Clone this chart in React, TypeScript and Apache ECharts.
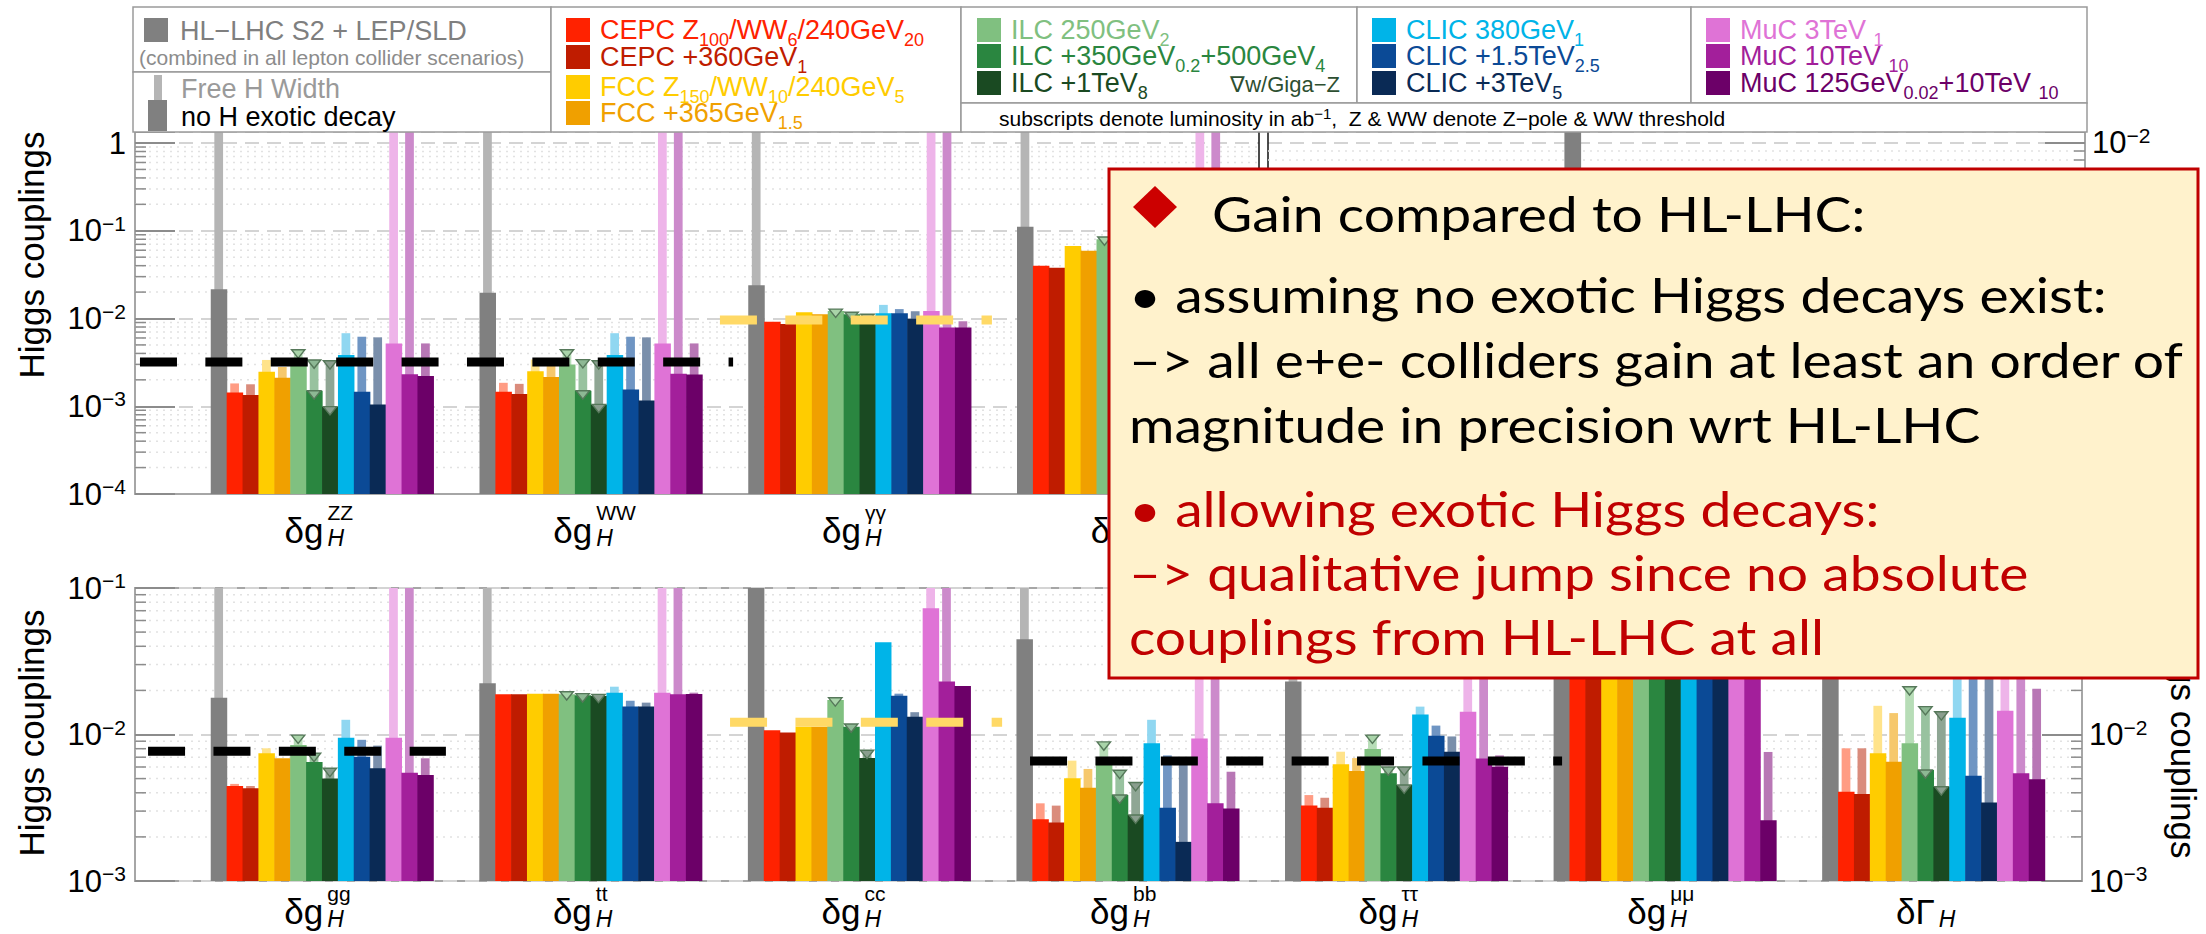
import React, { useEffect, useRef } from 'react';
import * as echarts from 'echarts';

const LABEL_FONT = '"Liberation Sans", Arial, Helvetica, sans-serif';
const NOTE_FONT = 'Lato, "Open Sans", sans-serif';

// ---------------- scenarios (bar order inside every group) ----------------
const scenarioNames = [
  'HL-LHC S2 + LEP/SLD', 'CEPC Z100/WW6/240GeV20', 'CEPC +360GeV1', 'FCC Z150/WW10/240GeV5', 'FCC +365GeV1.5',
  'ILC 250GeV2', 'ILC +350GeV0.2+500GeV4', 'ILC +1TeV8', 'CLIC 380GeV1', 'CLIC +1.5TeV2.5', 'CLIC +3TeV5',
  'MuC 3TeV1', 'MuC 10TeV10', 'MuC 125GeV0.02+10TeV10',
];
const noExoticColors = ['#808080', '#FF2200', '#BF1C00', '#FFCC00', '#F0A000', '#80C080', '#2A8640', '#1A4A22', '#00B4E8', '#0B4A96', '#0A2A55', '#DF73D6', '#A31F9B', '#6C0068'];
const freeWidthColors = ['#B5B5B5', '#FF9C84', '#DA8C7C', '#FFE38A', '#F6C86C', '#B7DDB7', '#98C29F', '#8FA694', '#90D7F1', '#6F95C3', '#7A8FAB', '#EEB4E9', '#CC8ACB', '#B877B5'];
const gigaZIndices = [5, 6, 7];
const gigaZFill = ['', '', '', '', '', '#A9D4A9', '#8DB894', '#8A9E8E'];

// legend labels (rich text, index matches scenario)
const legendLabels = [
  'HL−LHC S2 + LEP/SLD', 'CEPC Z{sub|100}/WW{sub|6}/240GeV{sub|20}', 'CEPC +360GeV{sub|1}', 'FCC Z{sub|150}/WW{sub|10}/240GeV{sub|5}', 'FCC +365GeV{sub|1.5}',
  'ILC 250GeV{sub|2}', 'ILC +350GeV{sub|0.2}+500GeV{sub|4}', 'ILC +1TeV{sub|8}', 'CLIC 380GeV{sub|1}', 'CLIC +1.5TeV{sub|2.5}', 'CLIC +3TeV{sub|5}',
  'MuC 3TeV {sub|1}', 'MuC 10TeV {sub|10}', 'MuC 125GeV{sub|0.02}+10TeV {sub|10}',
];

// ---------------- groups ----------------
const topGroups = ['ZZ', 'WW', 'γγ', 'Zγ'];
const bottomGroups = ['gg', 'tt', 'cc', 'bb', 'ττ', 'μμ', 'Γ'];

const OFF = 5; // beyond the top of the axis

// top panel: "no H exotic decay" (solid) and "Free H Width" (thin, lighter)
const zzNoExotic = [0.0215, 0.00143, 0.00134, 0.00248, 0.00211, 0.0030, 0.0015, 0.00099, 0.00384, 0.00146, 0.00105, 0.0052, 0.00231, 0.00221];
const zzFreeWidth = [OFF, 0.00182, 0.00178, 0.00337, 0.0028, 0.0044, 0.00337, 0.0033, 0.0068, 0.0062, 0.0061, OFF, OFF, 0.0052];
const wwNoExotic = [0.0197, 0.00146, 0.00138, 0.0025, 0.00215, 0.0030, 0.0015, 0.00105, 0.00384, 0.00155, 0.00116, 0.0052, 0.00235, 0.0023];
const wwFreeWidth = [OFF, 0.00185, 0.0018, 0.0034, 0.0029, 0.0044, 0.0034, 0.0033, 0.0068, 0.0062, 0.0061, OFF, OFF, 0.0052];
const aaNoExotic = [0.024, 0.0092, 0.00865, 0.0118, 0.0112, 0.0122, 0.0112, 0.0102, 0.0115, 0.0115, 0.00995, 0.0122, 0.0079, 0.0079];
const aaFreeWidth = [OFF, 0.0092, 0.00865, 0.0118, 0.0112, 0.0128, 0.0118, 0.0112, 0.0143, 0.0128, 0.0121, OFF, OFF, 0.0093];
const zaNoExotic = [0.111, 0.040, 0.038, 0.067, 0.059, 0.08, 0.07, 0.06, 0.12, 0.07, 0.06, 0.2, 0.1, 0.1];
const zaFreeWidth = [OFF, 0.040, 0.038, 0.067, 0.059, 0.085, 0.08, 0.07, 0.15, 0.1, 0.09, OFF, OFF, 0.2];

// top right panel (behind the note): only the HL-LHC bar of group 2 is visible
const rightGreyGroup = [1];
const rightGreyValue = [0.05];

// bottom panel
const ggNoExotic = [0.0178, 0.00445, 0.00429, 0.00745, 0.00688, 0.00848, 0.0065, 0.0050, 0.0095, 0.00706, 0.00588, 0.0095, 0.00548, 0.00529];
const ggFreeWidth = [OFF, 0.0046, 0.00445, 0.00805, 0.00688, 0.0099, 0.00745, 0.00588, 0.0126, 0.0092, 0.0084, OFF, OFF, 0.00688];
const ttNoExotic = [0.0224, 0.0188, 0.0188, 0.019, 0.019, 0.0188, 0.0185, 0.0183, 0.0193, 0.0155, 0.0155, 0.0193, 0.0188, 0.0189];
const ttFreeWidth = [OFF, 0.0188, 0.0188, 0.019, 0.019, 0.0196, 0.019, 0.0188, 0.0212, 0.017, 0.0165, OFF, OFF, 0.0193];
const ccNoExotic = [OFF, 0.0107, 0.0103, 0.0113, 0.0113, 0.0172, 0.0113, 0.0069, 0.0426, 0.0184, 0.0132, 0.0726, 0.023, 0.0214];
const ccFreeWidth = [OFF, 0.0107, 0.0103, 0.0113, 0.0113, 0.0178, 0.0118, 0.0078, 0.0426, 0.019, 0.0142, OFF, OFF, 0.0214];
const bbNoExotic = [0.0447, 0.00264, 0.00251, 0.00502, 0.00433, 0.00642, 0.00386, 0.00282, 0.0087, 0.00316, 0.00185, 0.0094, 0.00339, 0.00313];
const bbFreeWidth = [OFF, 0.00339, 0.00327, 0.00663, 0.00582, 0.0089, 0.0057, 0.0047, 0.0126, 0.0072, 0.0062, OFF, OFF, 0.00557];
const tauNoExotic = [0.023, 0.00327, 0.00316, 0.00626, 0.00563, 0.00796, 0.00543, 0.00452, 0.0137, 0.0098, 0.00763, 0.0143, 0.00687, 0.00603];
const tauFreeWidth = [OFF, 0.00386, 0.0037, 0.00763, 0.0069, 0.0099, 0.0060, 0.0060, 0.0155, 0.0115, 0.0097, OFF, OFF, 0.0072];
const muNoExotic = [0.043, 0.064, 0.059, 0.084, 0.08, 0.14, 0.09, 0.06, 0.3, 0.1, 0.056, 0.1, 0.034, 0.0026];
const muFreeWidth = [OFF, 0.065, 0.06, 0.085, 0.081, 0.15, 0.095, 0.065, 0.3, 0.12, 0.07, OFF, OFF, 0.0076];
const widthNoExotic = [0.05, 0.00407, 0.00392, 0.00745, 0.00652, 0.0087, 0.00573, 0.0044, 0.013, 0.00523, 0.00344, 0.0145, 0.00543, 0.00494];
const widthFreeWidth = [OFF, 0.00805, 0.00805, 0.0157, 0.014, 0.0212, 0.0155, 0.0143, 0.05, 0.05, 0.05, OFF, OFF, 0.0205];

const topNoExotic = [zzNoExotic, wwNoExotic, aaNoExotic, zaNoExotic];
const topFreeWidth = [zzFreeWidth, wwFreeWidth, aaFreeWidth, zaFreeWidth];
const bottomNoExotic = [ggNoExotic, ttNoExotic, ccNoExotic, bbNoExotic, tauNoExotic, muNoExotic, widthNoExotic];
const bottomFreeWidth = [ggFreeWidth, ttFreeWidth, ccFreeWidth, bbFreeWidth, tauFreeWidth, muFreeWidth, widthFreeWidth];

// dashed reference levels (x extent in group units)
const topRefFrom = [-0.675, 1.483];
const topRefTo = [1.532, 2.495];
const topRefValue = [0.0032, 0.0096];
const topRefKind = ['black', 'yellow'];
const bottomRefFrom = [-0.645, 1.522, 2.639];
const bottomRefTo = [0.464, 2.535, 4.62];
const bottomRefValue = [0.0077, 0.0121, 0.0066];
const bottomRefKind = ['black', 'yellow', 'black'];

// axis ranges
const topMin = 1e-4, topMax = 1.335;
const rightMin = 1e-4, rightMax = 0.01155;
const botMin = 1e-3, botMax = 1e-1;
const minorMultipliers = [2, 3, 4, 5, 6, 7, 8, 9];
const topDecades = [1e-4, 1e-3, 1e-2, 1e-1];
const rightDecades = [1e-4, 1e-3];
const bottomDecades = [1e-3, 1e-2];

// note box text
const noteLines = [
  'Gain compared to HL-LHC:',
  '• assuming no exotic Higgs decays exist:',
  '–> all e+e- colliders gain at least an order of',
  'magnitude in precision wrt HL-LHC',
  '• allowing exotic Higgs decays:',
  '–> qualitative jump since no absolute',
  'couplings from HL-LHC at all',
];
const noteColors = ['#000', '#000', '#000', '#000', '#C00000', '#C00000', '#C00000'];

// ---------------- helpers ----------------
const BAND_UNIT = 15.9 / 268.75;
const BAND_OFFSET = 23.75 / 268.75;

function buildBars(noEx: number[][], free: number[][]) {
  const out: number[][] = [];
  noEx.forEach((row, g) => row.forEach((v, b) => out.push([g, b, v, free[g][b]])));
  return out;
}
function buildGigaZ(noEx: number[][], free: number[][]) {
  const out: number[][] = [];
  noEx.forEach((row, g) => gigaZIndices.forEach((b) => {
    out.push([g, b, free[g][b]]);
    if (b !== 5 && free[g][b] / row[b] > 1.25) out.push([g, b, row[b]]);
  }));
  return out;
}
function minorValues(decades: number[]) {
  const out: number[][] = [];
  decades.forEach((d) => minorMultipliers.forEach((m) => out.push([0.5, m * d])));
  return out;
}

const renderBars = (params: any, api: any) => {
  const cs = params.coordSys;
  const g = api.value(0), b = api.value(1), dark = api.value(2), light = api.value(3);
  const xl = g - 0.5 + BAND_OFFSET + b * BAND_UNIT;
  const pa = api.coord([xl, dark]);
  const pb = api.coord([xl + BAND_UNIT, dark]);
  const bottom = cs.y + cs.height;
  const clampY = (y: number) => Math.max(cs.y, Math.min(bottom, y));
  const yd = clampY(pa[1]);
  const yl = clampY(api.coord([xl, light])[1]);
  const w = pb[0] - pa[0];
  const lw = w * 0.55;
  const children: any[] = [];
  if (yl < yd) {
    children.push({ type: 'rect', shape: { x: pa[0] + (w - lw) / 2, y: yl, width: lw, height: yd - yl + 1 }, style: { fill: freeWidthColors[b] } });
  }
  children.push({ type: 'rect', shape: { x: pa[0], y: yd, width: w + 0.6, height: bottom - yd }, style: { fill: noExoticColors[b] } });
  return { type: 'group', children };
};

const renderGigaZ = (params: any, api: any) => {
  const cs = params.coordSys;
  const g = api.value(0), b = api.value(1), v = api.value(2);
  const xl = g - 0.5 + BAND_OFFSET + b * BAND_UNIT;
  const pa = api.coord([xl, v]);
  const pb = api.coord([xl + BAND_UNIT, v]);
  if (pa[1] < cs.y || pa[1] > cs.y + cs.height) return null;
  const cx = (pa[0] + pb[0]) / 2, hw = (pb[0] - pa[0]) * 0.42, y = pa[1];
  return {
    type: 'polygon',
    shape: { points: [[cx - hw, y], [cx + hw, y], [cx, y + hw * 1.25]] },
    style: { fill: gigaZFill[b], stroke: '#56785A', lineWidth: 1.4 },
  };
};

const renderRef = (kinds: string[]) => (params: any, api: any) => {
  const p1 = api.coord([api.value(0), api.value(2)]);
  const p2 = api.coord([api.value(1), api.value(2)]);
  return {
    type: 'line',
    shape: { x1: p1[0], y1: p1[1], x2: p2[0], y2: p2[1] },
    style: { stroke: kinds[params.dataIndex] === 'yellow' ? '#FFD966' : '#000000', lineWidth: 9, lineDash: [37, 28.4] },
  };
};

const renderMinor = (tickLeft: boolean, tickRight: boolean) => (params: any, api: any) => {
  const cs = params.coordSys;
  const y = api.coord([0.5, api.value(1)])[1];
  const children: any[] = [
    { type: 'line', shape: { x1: cs.x, y1: y, x2: cs.x + cs.width, y2: y }, style: { stroke: '#E2E2E2', lineWidth: 1.5, lineDash: [2, 5] } },
  ];
  if (tickLeft) children.push({ type: 'line', shape: { x1: cs.x, y1: y, x2: cs.x + 11, y2: y }, style: { stroke: '#8C8C8C', lineWidth: 1.5 } });
  if (tickRight) children.push({ type: 'line', shape: { x1: cs.x + cs.width - 11, y1: y, x2: cs.x + cs.width, y2: y }, style: { stroke: '#8C8C8C', lineWidth: 1.5 } });
  return { type: 'group', children };
};

const renderGroupLabel = (names: string[], baseOff: number) => (params: any, api: any) => {
  const cs = params.coordSys;
  const cx = api.coord([api.value(0), api.value(1)])[0];
  const base = cs.y + cs.height + baseOff;
  const name = names[params.dataIndex];
  const isWidth = name === 'Γ';
  const children: any[] = [
    { type: 'text', style: { text: isWidth ? 'δΓ' : 'δg', x: cx + 2, y: base - 12, font: `35px ${LABEL_FONT}`, fill: '#000', textAlign: 'right', textVerticalAlign: 'middle' } },
    { type: 'text', style: { text: 'H', x: cx + 6, y: base - 4, font: `italic 23px ${LABEL_FONT}`, fill: '#000', textAlign: 'left', textVerticalAlign: 'middle' } },
  ];
  if (!isWidth) {
    children.push({ type: 'text', style: { text: name, x: cx + 6, y: base - 30, font: `21px ${LABEL_FONT}`, fill: '#000', textAlign: 'left', textVerticalAlign: 'middle' } });
  }
  return { type: 'group', children };
};

const decadeLabel = (v: number) => {
  const e = Math.log10(v);
  const r = Math.round(e);
  if (Math.abs(e - r) > 0.02) return '';
  return r === 0 ? '{b|1}' : `{b|10}{s|−${-r}}`;
};
const tickRich = {
  b: { fontSize: 31, fontFamily: LABEL_FONT, color: '#000', lineHeight: 36 },
  s: { fontSize: 21, fontFamily: LABEL_FONT, color: '#000', lineHeight: 16, verticalAlign: 'top' },
};
const GREY_AXIS = { show: true, onZero: false, lineStyle: { color: '#A6A6A6', width: 2 } };
const BLACK_AXIS = { show: true, onZero: false, lineStyle: { color: '#111', width: 1.5 } };
const MAJOR_TICK = { show: true, inside: true, length: 40, lineStyle: { color: '#8C8C8C', width: 2 } };
const SPLIT = { show: true, lineStyle: { color: '#D4D4D4', width: 2, type: [14, 8] } };

function measure(text: string, font: string) {
  const ctx = document.createElement('canvas').getContext('2d');
  if (!ctx) return 1000;
  ctx.font = font;
  return ctx.measureText(text).width;
}

function buildGraphics() {
  const els: any[] = [];
  // axis titles
  els.push({ type: 'text', x: 31, y: 255, rotation: Math.PI / 2, z: 50, style: { text: 'Higgs couplings', font: `35px ${LABEL_FONT}`, fill: '#000', textAlign: 'center', textVerticalAlign: 'middle' } });
  els.push({ type: 'text', x: 31, y: 733, rotation: Math.PI / 2, z: 50, style: { text: 'Higgs couplings', font: `35px ${LABEL_FONT}`, fill: '#000', textAlign: 'center', textVerticalAlign: 'middle' } });
  els.push({ type: 'text', x: 2183, y: 735, rotation: -Math.PI / 2, z: 50, style: { text: 'Higgs couplings', font: `35px ${LABEL_FONT}`, fill: '#000', textAlign: 'center', textVerticalAlign: 'middle' } });

  // legend boxes
  const box = (x: number, y: number, w: number, h: number) => ({ type: 'rect', z: 60, shape: { x, y, width: w, height: h }, style: { fill: '#fff', stroke: '#9A9A9A', lineWidth: 1.5 } });
  els.push(box(133, 7, 418, 65), box(133, 72, 418, 60), box(551, 7, 410, 125), box(961, 7, 396, 96), box(1357, 7, 334, 96), box(1691, 7, 396, 96), box(961, 103, 1126, 29));

  const legendText = (x: number, y: number, text: string, color: string, size = 27) => ({
    type: 'text', x, y, z: 61,
    style: {
      text, fill: color, font: `${size}px ${LABEL_FONT}`, lineHeight: 24, textAlign: 'left', textVerticalAlign: 'middle',
      rich: {
        sub: { font: `18px ${LABEL_FONT}`, fill: color, lineHeight: 4, height: 4, verticalAlign: 'bottom' },
        sup: { font: `15px ${LABEL_FONT}`, fill: color, lineHeight: 8, verticalAlign: 'top' },
      },
    },
  });
  // HL-LHC box
  els.push({ type: 'rect', z: 61, shape: { x: 144, y: 18, width: 24, height: 24 }, style: { fill: noExoticColors[0] } });
  els.push(legendText(180, 31, legendLabels[0], '#7F7F7F'));
  els.push(legendText(139, 57, '(combined in all lepton collider scenarios)', '#8C8C8C', 21));
  els.push({ type: 'rect', z: 61, shape: { x: 154, y: 75, width: 8, height: 26 }, style: { fill: freeWidthColors[0] } });
  els.push({ type: 'rect', z: 61, shape: { x: 148, y: 100, width: 19, height: 31 }, style: { fill: noExoticColors[0] } });
  els.push(legendText(181, 89, 'Free H Width', '#9A9A9A'));
  els.push(legendText(181, 117, 'no H exotic decay', '#000'));

  const boxes = [
    { x: 566, rows: [30, 57, 87, 113], idx: [1, 2, 3, 4] },
    { x: 977, rows: [30, 56, 83], idx: [5, 6, 7] },
    { x: 1372, rows: [30, 56, 83], idx: [8, 9, 10] },
    { x: 1706, rows: [30, 56, 83], idx: [11, 12, 13] },
  ];
  boxes.forEach((bx) => bx.idx.forEach((s, i) => {
    const y = bx.rows[i];
    els.push({ type: 'rect', z: 61, shape: { x: bx.x, y: y - 12, width: 24, height: 24 }, style: { fill: noExoticColors[s] } });
    els.push(legendText(bx.x + 34, y, legendLabels[s], noExoticColors[s]));
  }));
  els.push({ type: 'text', x: 1340, y: 84, z: 61, style: { text: '∇w/Giga−Z', fill: '#2D4F31', font: `22px ${LABEL_FONT}`, textAlign: 'right', textVerticalAlign: 'middle' } });
  els.push(legendText(999, 118, 'subscripts denote luminosity in ab{sup|−1},  Z & WW denote Z−pole & WW threshold', '#000', 21));

  // note box
  els.push({ type: 'rect', z: 100, shape: { x: 1109, y: 169, width: 1089, height: 509 }, style: { fill: '#FFF2CC', stroke: '#C00000', lineWidth: 3 } });
  els.push({ type: 'polygon', z: 101, shape: { points: [[1155, 186], [1177, 207], [1155, 228], [1133, 207]] }, style: { fill: '#CC0000' } });
  const noteFontPx = 49;
  const noteFont = `${noteFontPx}px ${NOTE_FONT}`;
  const scaleX = 1055 / measure(noteLines[2], noteFont);
  const noteX = [1212, 1129, 1129, 1129, 1129, 1129, 1129];
  const noteBase = [231, 312, 377, 442, 526, 590, 654];
  noteLines.forEach((t, i) => {
    els.push({
      type: 'text', x: noteX[i], y: noteBase[i] - 0.37 * noteFontPx, scaleX, z: 101,
      style: { text: t, fill: noteColors[i], font: noteFont, textAlign: 'left', textVerticalAlign: 'middle' },
    });
  });
  return els;
}

function buildOption() {
  const topBars = buildBars(topNoExotic, topFreeWidth);
  const bottomBars = buildBars(bottomNoExotic, bottomFreeWidth);
  const rightBars = rightGreyGroup.map((g, i) => [g, 0, rightGreyValue[i], rightGreyValue[i]]);
  return {
    animation: false,
    backgroundColor: '#ffffff',
    grid: [
      { left: 135, top: 132, width: 1124, height: 362 },
      { left: 187, top: 132, width: 1075, height: 362 },
      { left: 1268, top: 132, width: 817, height: 362 },
      { left: 135, top: 588, width: 1947, height: 293, show: true, borderColor: '#A6A6A6', borderWidth: 2 },
      { left: 187, top: 588, width: 1880, height: 293 },
    ],
    xAxis: [
      { gridIndex: 0, type: 'value', min: 0, max: 1, axisLine: GREY_AXIS, axisTick: { show: false }, axisLabel: { show: false }, splitLine: { show: false } },
      { gridIndex: 1, type: 'value', min: -0.5, max: 3.5, show: false },
      { gridIndex: 2, type: 'value', min: -0.5, max: 2.5, axisLine: GREY_AXIS, axisTick: { show: false }, axisLabel: { show: false }, splitLine: { show: false } },
      { gridIndex: 3, type: 'value', min: 0, max: 1, show: false },
      { gridIndex: 4, type: 'value', min: -0.5, max: 6.5, show: false },
    ],
    yAxis: [
      { gridIndex: 0, type: 'log', logBase: 10, min: topMin, max: topMax, position: 'left', axisLine: GREY_AXIS, axisTick: MAJOR_TICK, axisLabel: { formatter: decadeLabel, margin: 9, rich: tickRich }, splitLine: SPLIT },
      { gridIndex: 0, type: 'log', logBase: 10, min: topMin, max: topMax, position: 'right', axisLine: BLACK_AXIS, axisTick: { show: false }, axisLabel: { show: false }, splitLine: { show: false } },
      { gridIndex: 1, type: 'log', logBase: 10, min: topMin, max: topMax, show: false },
      { gridIndex: 2, type: 'log', logBase: 10, min: rightMin, max: rightMax, position: 'left', axisLine: BLACK_AXIS, axisTick: { show: false }, axisLabel: { show: false }, splitLine: SPLIT },
      { gridIndex: 2, type: 'log', logBase: 10, min: rightMin, max: rightMax, position: 'right', axisLine: GREY_AXIS, axisTick: MAJOR_TICK, axisLabel: { formatter: decadeLabel, margin: 7, rich: tickRich }, splitLine: { show: false } },
      { gridIndex: 3, type: 'log', logBase: 10, min: botMin, max: botMax, position: 'left', axisLine: GREY_AXIS, axisTick: MAJOR_TICK, axisLabel: { formatter: decadeLabel, margin: 9, rich: tickRich }, splitLine: SPLIT },
      { gridIndex: 3, type: 'log', logBase: 10, min: botMin, max: botMax, position: 'right', axisLine: GREY_AXIS, axisTick: MAJOR_TICK, axisLabel: { formatter: decadeLabel, margin: 7, rich: tickRich }, splitLine: { show: false } },
      { gridIndex: 4, type: 'log', logBase: 10, min: botMin, max: botMax, show: false },
    ],
    series: [
      { type: 'custom', xAxisIndex: 0, yAxisIndex: 0, z: 1, clip: false, silent: true, renderItem: renderMinor(true, false), encode: { x: 0, y: 1 }, data: minorValues(topDecades) },
      { type: 'custom', xAxisIndex: 2, yAxisIndex: 4, z: 1, clip: false, silent: true, renderItem: renderMinor(false, true), encode: { x: 0, y: 1 }, data: minorValues(rightDecades) },
      { type: 'custom', xAxisIndex: 3, yAxisIndex: 5, z: 1, clip: false, silent: true, renderItem: renderMinor(true, true), encode: { x: 0, y: 1 }, data: minorValues(bottomDecades) },
      { name: 'top bars', type: 'custom', xAxisIndex: 1, yAxisIndex: 2, z: 3, clip: false, renderItem: renderBars, encode: { x: 0, y: 2 }, data: topBars },
      { name: 'right bars', type: 'custom', xAxisIndex: 2, yAxisIndex: 3, z: 3, clip: false, renderItem: renderBars, encode: { x: 0, y: 2 }, data: rightBars },
      { name: 'bottom bars', type: 'custom', xAxisIndex: 4, yAxisIndex: 7, z: 3, clip: false, renderItem: renderBars, encode: { x: 0, y: 2 }, data: bottomBars },
      { type: 'custom', xAxisIndex: 1, yAxisIndex: 2, z: 4, clip: false, renderItem: renderGigaZ, encode: { x: 0, y: 2 }, data: buildGigaZ(topNoExotic, topFreeWidth) },
      { type: 'custom', xAxisIndex: 4, yAxisIndex: 7, z: 4, clip: false, renderItem: renderGigaZ, encode: { x: 0, y: 2 }, data: buildGigaZ(bottomNoExotic, bottomFreeWidth) },
      { type: 'custom', xAxisIndex: 1, yAxisIndex: 2, z: 5, clip: false, renderItem: renderRef(topRefKind), encode: { x: [0, 1], y: 2 }, data: topRefFrom.map((f, i) => [f, topRefTo[i], topRefValue[i]]) },
      { type: 'custom', xAxisIndex: 4, yAxisIndex: 7, z: 5, clip: false, renderItem: renderRef(bottomRefKind), encode: { x: [0, 1], y: 2 }, data: bottomRefFrom.map((f, i) => [f, bottomRefTo[i], bottomRefValue[i]]) },
      { type: 'custom', xAxisIndex: 1, yAxisIndex: 2, z: 5, clip: false, renderItem: renderGroupLabel(topGroups, 48), encode: { x: 0, y: 1 }, data: topGroups.map((_, i) => [i, topMin]) },
      { type: 'custom', xAxisIndex: 4, yAxisIndex: 7, z: 5, clip: false, renderItem: renderGroupLabel(bottomGroups, 42), encode: { x: 0, y: 1 }, data: bottomGroups.map((_, i) => [i, botMin]) },
    ],
    graphic: { elements: buildGraphics() },
  };
}

export default function App() {
  const ref = useRef<HTMLDivElement>(null);
  useEffect(() => {
    if (!ref.current) return;
    const chart = echarts.init(ref.current, null, { renderer: 'svg' });
    chart.setOption(buildOption() as any);
    return () => chart.dispose();
  }, []);
  return <div ref={ref} style={{ position: 'fixed', left: 0, top: 0, width: 2206, height: 934, background: '#fff' }} />;
}
